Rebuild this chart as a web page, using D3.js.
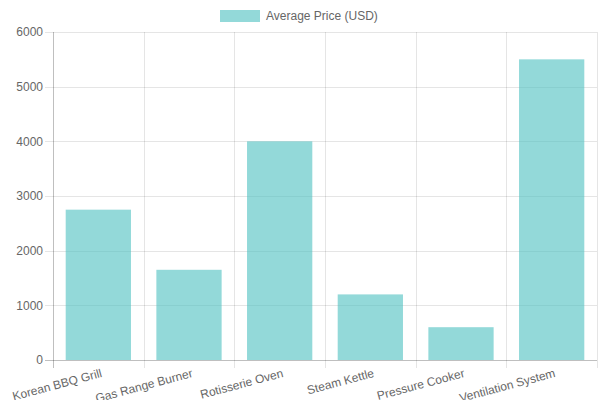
<!DOCTYPE html>
<html>
<head>
<meta charset="utf-8">
<script src="https://cdn.jsdelivr.net/npm/d3@7"></script>
<style>
  body { margin: 0; background: #fff; }
  text { font-family: "Liberation Sans", Arial, sans-serif; }
</style>
</head>
<body>
<div id="chart"></div>
<script>
    // datos del grafico
    var categories = ["Korean BBQ Grill", "Gas Range Burner", "Rotisserie Oven", "Steam Kettle", "Pressure Cooker", "Ventilation System"];
    var prices = [2750, 1650, 4000, 1200, 600, 5500];
    var yTicks = [0, 1000, 2000, 3000, 4000, 5000, 6000];
    var seriesName = "Average Price (USD)";

    var margin = {top: 32, right: 3, bottom: 40, left: 53},
      width = 600 - margin.left - margin.right,
      height = 400 - margin.top - margin.bottom;

    var svg = d3.select("#chart")
      .append("svg")
        .attr("width", 600)
        .attr("height", 400);

    var g = svg.append("g")
        .attr("transform", "translate(" + margin.left + "," + margin.top + ")");

    var x = d3.scaleBand()
      .domain(categories)
      .range([0, width])
      .paddingInner(0)
      .paddingOuter(0);

    var y = d3.scaleLinear()
      .domain([0, 6000])
      .range([height, 0]);

    var grid = "rgba(0,0,0,0.1)";

    // lineas horizontales
    g.selectAll(".hgrid")
      .data(yTicks)
      .enter().append("line")
        .attr("x1", -8)
        .attr("x2", width)
        .attr("y1", function(d) { return Math.round(y(d)) + 0.5; })
        .attr("y2", function(d) { return Math.round(y(d)) + 0.5; })
        .attr("stroke", function(d) { return d === 0 ? "rgba(0,0,0,0.25)" : grid; });

    // lineas verticales
    var bounds = categories.map(function(c) { return x(c); }).concat([width]);
    g.selectAll(".vgrid")
      .data(bounds)
      .enter().append("line")
        .attr("x1", function(d) { return Math.round(d) + 0.5; })
        .attr("x2", function(d) { return Math.round(d) + 0.5; })
        .attr("y1", 0)
        .attr("y2", height + 8)
        .attr("stroke", function(d, i) { return i === 0 ? "rgba(0,0,0,0.25)" : grid; });

    // etiquetas eje y
    g.selectAll(".ylab")
      .data(yTicks)
      .enter().append("text")
        .attr("x", -10)
        .attr("y", function(d) { return y(d); })
        .attr("dy", "0.35em")
        .attr("text-anchor", "end")
        .attr("font-size", 12)
        .attr("fill", "#666")
        .text(function(d) { return d; });

    // barras
    var barW = x.bandwidth() * 0.72;
    g.selectAll(".bar")
      .data(prices)
      .enter().append("rect")
        .attr("x", function(d, i) { return x(categories[i]) + (x.bandwidth() - barW) / 2; })
        .attr("y", function(d) { return y(d); })
        .attr("width", barW)
        .attr("height", function(d) { return height - y(d); })
        .attr("fill", "rgba(75,192,192,0.6)");

    // etiquetas eje x rotadas
    g.selectAll(".xlab")
      .data(categories)
      .enter().append("text")
        .attr("transform", function(d) {
          return "translate(" + (x(d) + x.bandwidth() / 2 + 2) + "," + (height + 8) + ") rotate(-15)";
        })
        .attr("dy", "0.75em")
        .attr("text-anchor", "end")
        .attr("font-size", 12)
        .attr("fill", "#666")
        .text(function(d) { return d; });

    // leyenda
    svg.append("rect")
      .attr("x", 220)
      .attr("y", 10)
      .attr("width", 40)
      .attr("height", 12)
      .attr("fill", "rgba(75,192,192,0.6)");
    svg.append("text")
      .attr("x", 266)
      .attr("y", 16)
      .attr("dy", "0.35em")
      .attr("font-size", 12)
      .attr("fill", "#666")
      .text(seriesName);
</script>
</body>
</html>
